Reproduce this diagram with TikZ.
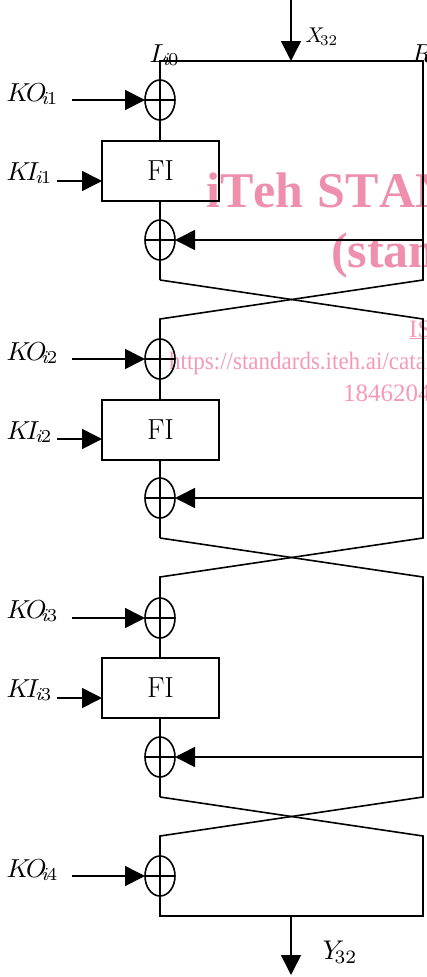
\documentclass[tikz,border=0pt]{standalone}
\usepackage{fontspec}
\newfontfamily\wmfont[Kerning=Off]{Liberation Serif}
\usetikzlibrary{arrows.meta,shapes.geometric,calc}
\definecolor{wmbold}{HTML}{EF8FAE}
\definecolor{wmthin}{HTML}{F599B6}
\newcommand{\subk}[3]{#1_{\mkern#2mu i\mkern-2mu #3}}
\tikzset{
  x=1pt,y=-1pt,
  wire/.style={line width=1.6pt,line join=miter},
  arrowwire/.style={wire,-{Triangle[length=20pt,width=20pt]}},
  xorcirc/.style={ellipse,draw,line width=1.6pt,minimum width=30pt,minimum height=40pt,inner sep=0pt,outer sep=0pt},
  fibox/.style={rectangle,draw,line width=1.6pt,minimum width=117pt,minimum height=60pt,inner sep=0pt,outer sep=0pt,font=\fontsize{29}{29}\selectfont},
  lab/.style={anchor=base west,inner sep=0pt,scale=2.6},
  wmb/.style={anchor=base west,inner sep=0pt,text=wmbold,font=\wmfont\bfseries\fontsize{50}{50}\selectfont},
  wmt/.style={anchor=base west,inner sep=0pt,text=wmthin,font=\wmfont\fontsize{25}{25}\selectfont},
}
\begin{document}
\begin{tikzpicture}
\useasboundingbox (0,0) rectangle (426,977);
\begin{scope}
\clip (0,0) rectangle (426,977);
\node[wmb] (wa) at (206,207) {iTeh\hspace{2pt} STAND};
\node[wmb] (wb) at (331,267.5) {(stand};
\node[wmt] (wc) at (409,337) {\underline{ISO}};
\node[wmt] (wd) at (169,369) {\scalebox{.92}[1]{https://standards.iteh.ai/catal}};
\node[wmt] (we) at (343,401) {18462040};
\node[lab] (lr) at (411,62) {$\subk{R}{-3.5}{0}$};
\end{scope}

% nodes
\foreach \n/\y in {a/100,b/240,c/359,d/498,e/618,f/757,g/876}
  \node[xorcirc] (x\n) at (160,\y) {};
\node[fibox] (fa) at (160.5,171) {FI};
\node[fibox] (fb) at (160.5,430) {FI};
\node[fibox] (fc) at (160.5,688) {FI};

\node[lab] (l0) at (149,62) {$\subk{L}{-3.5}{0}$};
\node[lab,scale=.82] (x32) at (305,42) {$X_{\!32}$};
\node[lab,scale=1.04] (y32) at (322,959) {$Y_{\!32}$};
\node[lab] (ko1) at (6,101) {$\subk{K\!O}{-3.5}{1}$};
\node[lab] (ki1) at (6,180) {$\subk{K\!I}{-1.5}{1}$};
\node[lab] (ko2) at (6,360) {$\subk{K\!O}{-3.5}{2}$};
\node[lab] (ki2) at (6,439) {$\subk{K\!I}{-1.5}{2}$};
\node[lab] (ko3) at (6,618) {$\subk{K\!O}{-3.5}{3}$};
\node[lab] (ki3) at (6,697) {$\subk{K\!I}{-1.5}{3}$};
\node[lab] (ko4) at (6,877) {$\subk{K\!O}{-3.5}{4}$};

% free ends
\coordinate (topin) at (291,0);
\coordinate (topmid) at (291,61);
\coordinate (tl) at (160,61);
\coordinate (tr) at (423,61);
\coordinate (botl) at (160,916);
\coordinate (botr) at (423,916);
\coordinate (botmid) at (291,916);
\coordinate (botout) at (291,975);
\foreach \n/\y in {a/280,b/538,c/797}{
  \coordinate (cl\n) at (160,\y);
  \coordinate (cr\n) at (423,\y);
  \coordinate (dl\n) at (160,\y+39);
  \coordinate (dr\n) at (423,\y+39);
}
\foreach \n/\y in {a/100,c/359,e/618,g/876}
  \coordinate (s\n) at (72,\y);
\foreach \n/\y in {a/181,b/439,c/698}
  \coordinate (k\n) at (57,\y);

% main paths
\draw[wire] (xa.north) -- (tl) -- (tr) -- (cra) -- (dla) -- (xc.north);
\draw[wire] (cla) -- (dra) -- (crb) -- (dlb) -- (xe.north);
\draw[wire] (clb) -- (drb) -- (crc) -- (dlc) -- (xg.north);
\draw[wire] (clc) -- (drc) -- (botr) -- (botl) -- (xg.south);
\draw[wire] (xa.south) -- (xa.south |- fa.north);
\draw[wire] (xb.north |- fa.south) -- (xb.north);
\draw[wire] (xb.south) -- (cla);
\draw[wire] (xc.south) -- (xc.south |- fb.north);
\draw[wire] (xd.north |- fb.south) -- (xd.north);
\draw[wire] (xd.south) -- (clb);
\draw[wire] (xe.south) -- (xe.south |- fc.north);
\draw[wire] (xf.north |- fc.south) -- (xf.north);
\draw[wire] (xf.south) -- (clc);

% crosses inside the xors
\foreach \n in {a,b,c,d,e,f,g}{
  \draw[line width=1.2pt] (x\n.north) -- (x\n.south);
  \draw[line width=1.2pt] (x\n.west) -- (x\n.east);
}

% arrows
\draw[arrowwire] (topin) -- (topmid);
\draw[arrowwire] (botmid) -- (botout);
\draw[arrowwire] (sa) -- (xa.west);
\draw[arrowwire] (sc) -- (xc.west);
\draw[arrowwire] (se) -- (xe.west);
\draw[arrowwire] (sg) -- (xg.west);
\draw[arrowwire] (ka) -- (ka -| fa.west);
\draw[arrowwire] (kb) -- (kb -| fb.west);
\draw[arrowwire] (kc) -- (kc -| fc.west);
\draw[arrowwire] (xb.east -| tr) -- (xb.east);
\draw[arrowwire] (xd.east -| tr) -- (xd.east);
\draw[arrowwire] (xf.east -| tr) -- (xf.east);
\end{tikzpicture}
\end{document}
